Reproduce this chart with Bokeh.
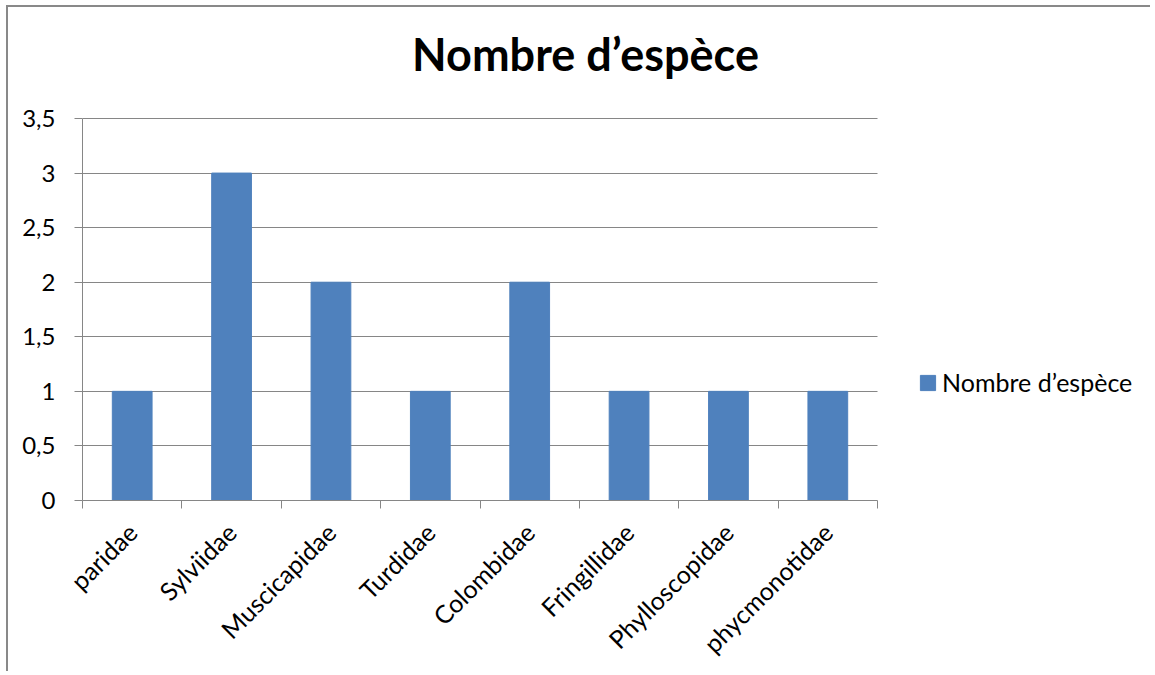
import math
from bokeh.plotting import figure
from bokeh.models import (Range1d, FixedTicker, CustomJSTickFormatter,
                          Legend, LegendItem, BoxAnnotation, Label)
from bokeh.embed import file_html
from bokeh.resources import INLINE

categories = ["paridae", "Sylviidae", "Muscicapidae", "Turdidae", "Colombidae",
              "Fringillidae", "Phylloscopidae", "phycmonotidae"]
values = [1, 3, 2, 1, 2, 1, 1, 1]
y_ticks = [0, 0.5, 1, 1.5, 2, 2.5, 3, 3.5]
y_max = 3.5
series_name = "Nombre d’espèce"
title_text = "Nombre d’espèce"

n = len(categories)
x_centers = [i + 0.5 for i in range(n)]
x_bounds = list(range(n + 1))

FONT = "Lato"
GRAY = "#868686"
BAR = "#4F81BD"

W, H = 1144, 666
BORDER_L, BORDER_B = 74, 173
FRAME_W = W - BORDER_L          # frame runs to the right edge (legend lives there)
FRAME_H = H - BORDER_B          # frame runs to the top edge (title lives there)
PLOT_W = 795                    # pixel width used by the 8 categories
PLOT_H = 382                    # pixel height used by 0..3.5
x_end = n * FRAME_W / PLOT_W
y_end = y_max * FRAME_H / PLOT_H

p = figure(width=W, height=H, x_range=Range1d(0, x_end), y_range=Range1d(0, y_end),
           output_backend="svg", toolbar_location=None, title=None,
           min_border_left=BORDER_L, min_border_right=0, min_border_top=0,
           min_border_bottom=BORDER_B)
p.styles = {"border-top": "2px solid #898989", "border-left": "2px solid #898989",
            "margin-left": "6px", "margin-top": "5px"}
p.outline_line_color = None
p.background_fill_color = "white"
p.border_fill_color = "white"

r = p.vbar(x=x_centers, top=values, width=0.4, fill_color=BAR, line_color=BAR)

# y axis
p.yaxis.bounds = (0, y_max)
p.yaxis.ticker = FixedTicker(ticks=y_ticks)
p.ygrid.ticker = FixedTicker(ticks=y_ticks)
p.yaxis.formatter = CustomJSTickFormatter(code="return tick.toString().replace('.', ',');")
p.yaxis.axis_line_color = GRAY
p.yaxis.major_tick_line_color = GRAY
p.yaxis.major_tick_out = 8
p.yaxis.major_tick_in = 0
p.yaxis.minor_tick_line_color = None
p.yaxis.major_label_standoff = 19
p.yaxis.major_label_text_font = FONT
p.yaxis.major_label_text_font_size = "24px"
p.yaxis.major_label_text_color = "black"
p.ygrid.grid_line_color = GRAY
p.xgrid.visible = False

# x axis
p.xaxis.bounds = (0, n)
p.xaxis.ticker = FixedTicker(ticks=x_centers, minor_ticks=x_bounds)
p.xaxis.formatter = CustomJSTickFormatter(args=dict(cats=categories),
                                          code="return cats[Math.floor(tick)];")
p.xaxis.axis_line_color = GRAY
p.xaxis.major_tick_line_color = None
p.xaxis.major_tick_out = 0
p.xaxis.major_tick_in = 0
p.xaxis.minor_tick_line_color = GRAY
p.xaxis.minor_tick_out = 8
p.xaxis.minor_tick_in = 0
p.xaxis.major_label_orientation = math.pi / 4
p.xaxis.major_label_standoff = 19
p.xaxis.major_label_text_font = FONT
p.xaxis.major_label_text_font_size = "25px"
p.xaxis.major_label_text_color = "black"

# blank out the grid to the right of the category area (legend area)
p.add_layout(BoxAnnotation(left=n, fill_color="white", fill_alpha=1.0,
                           line_color=None, level="underlay"))

# chart title, centred over the whole chart
px_x = PLOT_W / n
px_y = PLOT_H / y_max
p.add_layout(Label(x=(586 - 83) / px_x, y=(500 - 53) / px_y, text=title_text,
                   text_align="center", text_baseline="alphabetic",
                   text_font=FONT, text_font_style="bold", text_font_size="45px",
                   text_color="black"))

legend = Legend(items=[LegendItem(label=series_name, renderers=[r])],
                location=(836, 103), padding=0, margin=0, border_line_color=None,
                background_fill_alpha=0, glyph_width=19, glyph_height=19,
                label_standoff=5, label_text_font=FONT, label_text_font_size="25px",
                label_text_color="black")
p.add_layout(legend)

open("out.html", "w").write(file_html(p, INLINE))
